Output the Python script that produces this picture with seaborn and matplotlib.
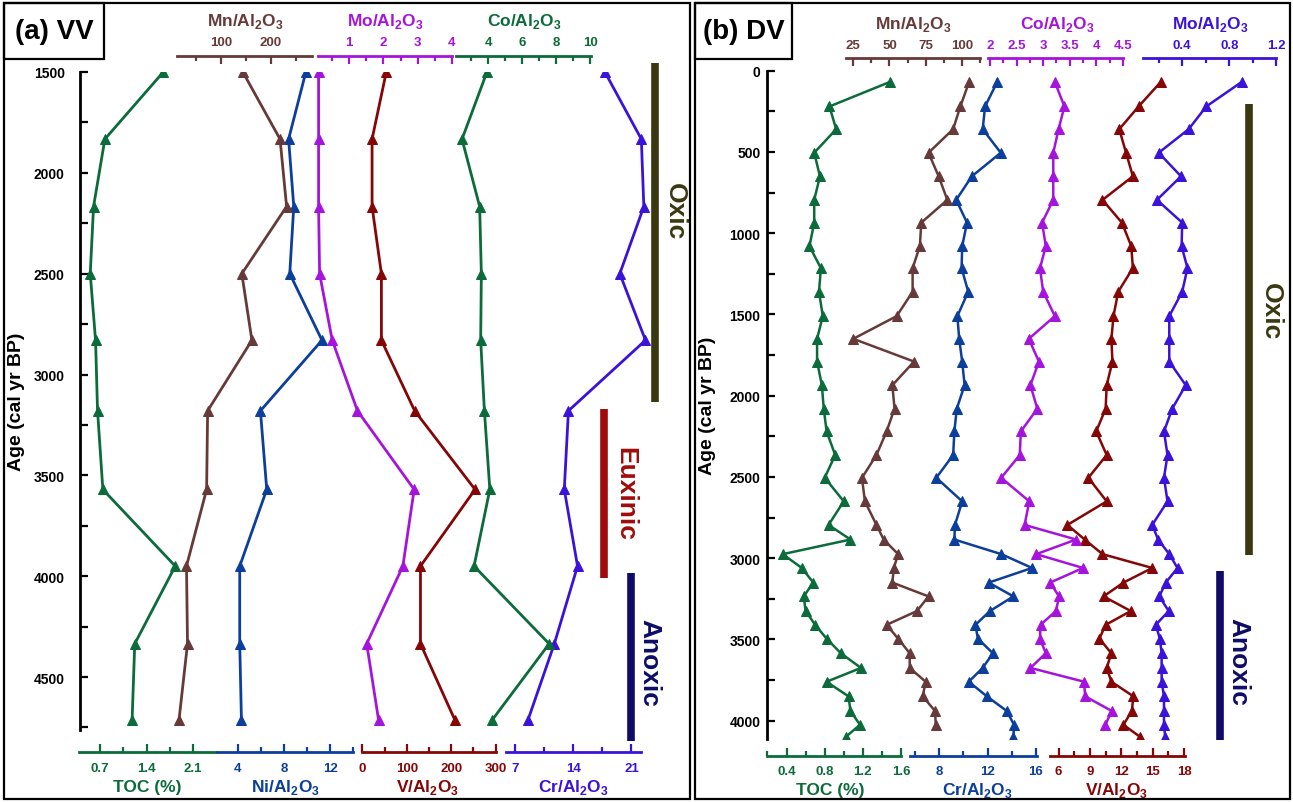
import numpy as np
import pandas as pd
import matplotlib
matplotlib.use('Agg')
import matplotlib.pyplot as plt
import seaborn as sns
from matplotlib.patches import Rectangle

sns.set_style('white')
plt.rcParams['font.family'] = ['Liberation Sans', 'DejaVu Sans']
plt.rcParams['font.weight'] = 'bold'
plt.rcParams['mathtext.fontset'] = 'custom'
plt.rcParams['mathtext.rm'] = 'Liberation Sans:bold'
plt.rcParams['mathtext.bf'] = 'Liberation Sans:bold'

# ---------------- (a) VV data ----------------
age_vv = [1500, 1833, 2167, 2500, 2830, 3180, 3570, 3950, 4335, 4715]
toc_vv = [1.65, 0.77, 0.60, 0.55, 0.63, 0.66, 0.74, 1.83, 1.22, 1.18]
mn_vv = [144, 218, 231, 142, 162, 74, 72, 32, 34, 17]
ni_vv = [9.9, 8.4, 8.85, 8.5, 11.3, 5.95, 6.5, 4.15, 4.15, 4.3]
mo_vv = [0.10, 0.10, 0.10, 0.13, 0.50, 1.24, 2.90, 2.57, 1.51, 1.86]
v_vv = [54, 22, 22, 43, 43, 118, 254, 131, 131, 209]
co_vv = [3.92, 2.45, 3.49, 3.59, 3.55, 3.77, 4.09, 3.16, 7.59, 4.21]
cr_vv = [17.8, 22.2, 22.5, 19.6, 22.7, 13.4, 12.9, 14.5, 11.7, 8.5]

zone_name_vv = ['Oxic', 'Euxinic', 'Anoxic']
zone_top_vv = [1457, 3173, 3983]
zone_bot_vv = [3134, 4011, 4817]

# ---------------- (b) DV data ----------------
age_dv = [70, 220, 360, 505, 650, 795, 935, 1080, 1215, 1360, 1510, 1650, 1790, 1935,
          2080, 2220, 2365, 2505, 2650, 2795, 2885, 2975, 3060, 3150, 3235, 3325, 3410,
          3495, 3585, 3675, 3760, 3850, 3940, 4025, 4100]
toc_dv = [1.48, 0.85, 0.92, 0.69, 0.75, 0.69, 0.69, 0.64, 0.76, 0.74, 0.78, 0.72, 0.72, 0.77,
          0.79, 0.82, 0.91, 0.80, 1.00, 0.84, 1.07, 0.36, 0.56, 0.68, 0.58, 0.60, 0.70,
          0.82, 0.97, 1.18, 0.82, 1.05, 1.07, 1.17, 1.02]
mn_dv = [105, 99, 94, 77, 84, 90, 72, 71, 66, 66, 55, 25, 67, 52,
         53.5, 48, 41, 31, 33, 41, 46, 56, 53, 52, 77, 69, 48,
         56, 64, 64, 75, 73, 81.5, 82]
cr_dv = [12.8, 11.8, 11.6, 13.1, 10.7, 9.4, 10.3, 9.9, 9.85, 10.4, 9.5, 9.65, 9.9, 10.1,
         9.45, 9.25, 9.15, 7.75, 9.9, 9.3, 9.25, 13.15, 15.7, 12.1, 14.15, 12.2, 11.0,
         11.2, 12.45, 11.6, 10.45, 11.95, 13.6, 14.2, 14.15]
co_dv = [3.22, 3.40, 3.29, 3.19, 3.19, 3.19, 2.98, 3.05, 2.94, 3.00, 3.22, 2.73, 2.92, 2.76,
         2.89, 2.58, 2.56, 2.21, 2.74, 2.65, 3.62, 2.87, 3.75, 3.13, 3.30, 3.24, 2.95,
         2.94, 3.05, 2.76, 3.77, 3.79, 4.29, 4.17]
v_dv = [15.75, 13.65, 11.8, 12.45, 13.1, 10.2, 12.05, 12.95, 13.1, 11.7, 11.25, 11.05, 11.15, 10.6,
        10.5, 9.6, 10.6, 8.85, 10.6, 6.85, 8.5, 10.2, 14.95, 12.2, 10.3, 12.9, 10.5,
        9.9, 11.05, 10.6, 11.05, 13.15, 13.0, 12.2, 13.8]
mo_dv = [0.905, 0.605, 0.455, 0.20, 0.39, 0.185, 0.40, 0.395, 0.445, 0.40, 0.29, 0.29, 0.29, 0.43,
         0.315, 0.245, 0.275, 0.245, 0.275, 0.145, 0.195, 0.29, 0.36, 0.26, 0.205, 0.285, 0.175,
         0.21, 0.225, 0.225, 0.225, 0.245, 0.245, 0.245, 0.255]

zone_name_dv = ['Oxic', 'Anoxic']
zone_top_dv = [205, 3077]
zone_bot_dv = [2978, 4119]

GREEN = '#0b6b3a'
BROWN = '#663a38'
BLUE = '#0c3e9c'
PURPLE = '#a514dc'
DKRED = '#850606'
VIOLET = '#3b12d9'
ZONE_COL = {'Oxic': '#3a3810', 'Euxinic': '#a00c0c', 'Anoxic': '#0e0c68'}


def ratio(el):
    return el + r'/Al$_{2}$O$_{3}$'


W, H = 1293, 803
fig = plt.figure(figsize=(W / 100, H / 100), dpi=100)


def rect(x0, y0, x1, y1):
    return [x0 / W, 1 - y1 / H, (x1 - x0) / W, (y1 - y0) / H]


def make_host(box, ylim, major, minor, pad, ylab_x):
    x0, y0, x1, y1 = box
    ax = fig.add_axes(rect(*box))
    ax.set_xlim(0, 1)
    ax.set_ylim(*ylim)
    for s in ['top', 'right', 'bottom']:
        ax.spines[s].set_visible(False)
    ax.spines['left'].set_linewidth(2)
    ax.spines['left'].set_color('black')
    ax.set_xticks([])
    ax.set_yticks(major)
    ax.set_yticks(minor, minor=True)
    ax.tick_params(axis='y', which='both', direction='in', length=6, width=1.6,
                   colors='black', pad=pad, labelsize=10, left=True)
    ax.set_ylabel('Age (cal yr BP)', fontsize=14, fontweight='bold', color='black')
    ax.yaxis.set_label_coords((ylab_x - x0) / (x1 - x0), 0.5)
    return ax


def add_series(host, box, ages, vals, color, title, side, anchors, major, minor,
               bounds, spine_off, pad, title_xy, msize, lw):
    x0, y0, x1, y1 = box
    ax = host.twiny()
    sns.lineplot(x=vals, y=ages, ax=ax, color=color, linewidth=lw, marker='^',
                 markersize=msize, markeredgecolor=color, estimator=None,
                 sort=False, orient='y')
    v1, p1, v2, p2 = anchors
    k = (p2 - p1) / (v2 - v1)
    ax.set_xlim(v1 + (x0 - p1) / k, v1 + (x1 - p1) / k)
    for s in ax.spines.values():
        s.set_visible(False)
    sp = ax.spines[side]
    sp.set_visible(True)
    sp.set_color(color)
    sp.set_linewidth(2)
    sp.set_position(('outward', spine_off))
    sp.set_bounds(*bounds)
    ax.xaxis.set_ticks_position(side)
    ax.xaxis.set_label_position(side)
    ax.set_xticks(major)
    ax.set_xticklabels(['{:g}'.format(v) for v in major])
    ax.set_xticks(minor, minor=True)
    on_top = side == 'top'
    ax.tick_params(axis='x', which='both', direction='in', colors=color, width=1.6,
                   pad=pad, labelsize=9.5, top=on_top, bottom=not on_top,
                   labeltop=on_top, labelbottom=not on_top)
    ax.tick_params(axis='x', which='major', length=6)
    ax.tick_params(axis='x', which='minor', length=3.5)
    ax.set_xlabel(title, color=color, fontsize=12.5, fontweight='bold', va='center')
    tx, ty = title_xy
    ax.xaxis.set_label_coords((tx - x0) / (x1 - x0), (y1 - ty) / (y1 - y0))
    ax.set_ylabel('')
    return ax


def add_zones(host, box, names, tops, bots, bar_x, lab_x, lab_age):
    x0, y0, x1, y1 = box
    for name, a0, a1, bx, lx, la in zip(names, tops, bots, bar_x, lab_x, lab_age):
        col = ZONE_COL[name]
        host.vlines((bx - x0) / (x1 - x0), a0, a1, color=col, lw=5.5, clip_on=False)
        host.text((lx - x0) / (x1 - x0), la, name, rotation=270, ha='center',
                  va='center', color=col, fontsize=19, fontweight='bold')


# ---------------- panel (a) ----------------
box_a = (80, 73, 660, 730.5)
ha = make_host(box_a, (4760, 1500), np.arange(1500, 4501, 500),
               np.arange(1750, 4751, 500), 11, 25)
series_a = [
    (toc_vv, GREEN, 'TOC (%)', 'bottom', (0.7, 100.2, 2.1, 193.2), [0.7, 1.4, 2.1], [1.05, 1.75], (0.38, 2.43), (147, 788)),
    (ni_vv, BLUE, ratio('Ni'), 'bottom', (4, 238, 12, 330), [4, 8, 12], [6, 10, 14], (2.2, 14), (285, 788)),
    (v_vv, DKRED, ratio('V'), 'bottom', (0, 362.3, 300, 495.5), [0, 100, 200, 300], [50, 150, 250], (0, 300), (428, 788)),
    (cr_vv, VIOLET, ratio('Cr'), 'bottom', (7, 515.4, 21, 631.4), [7, 14, 21], [10.5, 17.5], (5.9, 22.2), (573, 788)),
    (mn_vv, BROWN, ratio('Mn'), 'top', (100, 220.7, 200, 271), [100, 200], [50, 150, 250], (12.5, 281), (245, 22)),
    (mo_vv, PURPLE, ratio('Mo'), 'top', (1, 349.3, 4, 451.7), [1, 2, 3, 4], [0.5, 1.5, 2.5, 3.5], (0.07, 4.02), (385, 22)),
    (co_vv, GREEN, ratio('Co'), 'top', (4, 488.3, 10, 590), [4, 6, 8, 10], [3, 5, 7, 9], (2.1, 10.05), (524, 22)),
]
for vals, col, title, side, anc, maj, mnr, bnd, txy in series_a:
    off = 11.7 if side == 'top' else 16.2
    pad = 5.5 if side == 'top' else 7
    add_series(ha, box_a, age_vv, vals, col, title, side, anc, maj, mnr, bnd,
               off, pad, txy, 7.5, 2)
add_zones(ha, box_a, zone_name_vv, zone_top_vv, zone_bot_vv,
          [655, 603.5, 630.5], [675, 625.7, 649], [2189, 3585, 4424])
ha.set_ylim(4760, 1500)

# ---------------- panel (b) ----------------
box_b = (767.5, 71.7, 1285, 739.6)
hb = make_host(box_b, (4110, 0), np.arange(0, 4001, 500),
               np.arange(250, 3751, 500), 5, 716)
series_b = [
    (age_dv, toc_dv, GREEN, 'TOC (%)', 'bottom', (0.4, 782.3, 1.6, 897.7), [0.4, 0.8, 1.2, 1.6], [0.2, 0.6, 1.0, 1.4], (0.2, 1.6), (830, 790.5)),
    (age_dv, cr_dv, BLUE, ratio('Cr'), 'bottom', (8, 939.3, 16, 1035.7), [8, 12, 16], [6, 10, 14], (5.6, 16.1), (977, 790.5)),
    (age_dv, v_dv, DKRED, ratio('V'), 'bottom', (6, 1058.5, 18, 1184.2), [6, 9, 12, 15, 18], [7.5, 10.5, 13.5, 16.5], (5.15, 18.1), (1117, 790.5)),
    (age_dv[:len(mn_dv)], mn_dv, BROWN, ratio('Mn'), 'top', (25, 853.3, 100, 961.8), [25, 50, 75, 100], [37.5, 62.5, 87.5, 112.5], (20, 112.5), (913, 25)),
    (age_dv[:len(co_dv)], co_dv, PURPLE, ratio('Co'), 'top', (2, 990, 4.5, 1122.9), [2, 2.5, 3, 3.5, 4, 4.5], [2.25, 2.75, 3.25, 3.75, 4.25], (1.97, 4.5), (1057, 25)),
    (age_dv, mo_dv, VIOLET, ratio('Mo'), 'top', (0.4, 1182.2, 1.2, 1276.2), [0.4, 0.8, 1.2], [0.2, 0.6, 1.0], (0.063, 1.2), (1210, 25)),
]
for ages, vals, col, title, side, anc, maj, mnr, bnd, txy in series_b:
    off = 8.9 if side == 'top' else 12.3
    pad = 5.3 if side == 'top' else 7
    add_series(hb, box_b, ages, vals, col, title, side, anc, maj, mnr, bnd,
               off, pad, txy, 7, 1.8)
add_zones(hb, box_b, zone_name_dv, zone_top_dv, zone_bot_dv,
          [1248.5, 1220.4], [1270.5, 1238.4], [1477, 3631])
hb.set_ylim(4110, 0)

# ---------------- frames and panel tags ----------------
for x0, y0, x1, y1 in [(4, 4, 690, 800), (695, 4, 1290, 800)]:
    fig.add_artist(Rectangle((x0 / W, 1 - y1 / H), (x1 - x0) / W, (y1 - y0) / H,
                             transform=fig.transFigure, fill=False, ec='black', lw=1.6))
for tag, (x0, y0, x1, y1) in [('(a) VV', (4, 4, 104, 60)), ('(b) DV', (695, 4, 792, 60))]:
    fig.add_artist(Rectangle((x0 / W, 1 - y1 / H), (x1 - x0) / W, (y1 - y0) / H,
                             transform=fig.transFigure, fill=False, ec='black', lw=1.6))
    fig.text((x0 + x1) / 2 / W, 1 - 32 / H, tag, ha='center', va='center',
             fontsize=20, fontweight='bold', color='black')

fig.savefig('out.png', dpi=100)
